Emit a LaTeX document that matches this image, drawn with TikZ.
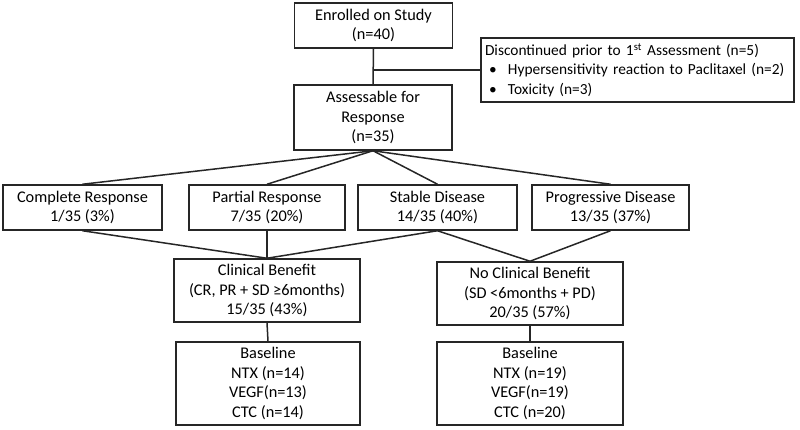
\documentclass[tikz,border=0pt]{standalone}
\usepackage{fontspec}
\setmainfont{Carlito}
\usepackage{tikz}

\tikzset{
  box/.style={draw=black!85, line width=1.5pt, inner sep=2pt, align=center,
              font=\fontsize{16.3}{19.5}\selectfont},
  link/.style={draw=black!85, line width=1.5pt}
}

\begin{document}
\begin{tikzpicture}[x=1pt, y=-1pt]
    \useasboundingbox (0,0) rectangle (800,430);

    %% top
    \node[box, minimum width=158pt, minimum height=45pt] (enroll) at (373.5,25.5)
        {Enrolled on Study\\(n=40)};
    \node[box, minimum width=158pt, minimum height=65pt] (assess) at (373,117.5)
        {Assessable for\\Response\\(n=35)};
    \node[box, minimum width=313pt, minimum height=64pt, align=left, text width=309pt,
          inner xsep=1.5pt, font=\fontsize{15.4}{19.5}\selectfont] (disc) at (637.5,70)
        {\mbox{\hspace*{2pt}Discontinued prior to 1\textsuperscript{st} Assessment (n=5)}\\
         \mbox{\makebox[25pt][l]{\hspace*{6pt}\textbullet}Hypersensitivity reaction to Paclitaxel (n=2)}\\
         \mbox{\makebox[25pt][l]{\hspace*{6pt}\textbullet}Toxicity (n=3)}};

    %% responses
    \node[box, minimum width=159pt, minimum height=45pt] (cr) at (82.5,207.5)
        {Complete Response\\1/35 (3\%)};
    \node[box, minimum width=156pt, minimum height=45pt] (pr) at (267,207.5)
        {Partial Response\\7/35 (20\%)};
    \node[box, minimum width=159pt, minimum height=45pt] (sd) at (437.5,207.5)
        {Stable Disease\\14/35 (40\%)};
    \node[box, minimum width=157pt, minimum height=45pt] (pd) at (610.5,207.5)
        {Progressive Disease\\13/35 (37\%)};

    %% benefit
    \node[box, minimum width=186pt, minimum height=63pt] (cb) at (267,290.5)
        {Clinical Benefit\\(CR, PR + SD ≥6months)\\15/35 (43\%)};
    \node[box, minimum width=186pt, minimum height=63pt] (ncb) at (530,293.5)
        {No Clinical Benefit\\(SD <6months + PD)\\20/35 (57\%)};

    %% baseline
    \node[box, minimum width=184pt, minimum height=83pt] (basecb) at (268,383.5)
        {Baseline\\NTX (n=14)\\VEGF(n=13)\\CTC (n=14)};
    \node[box, minimum width=186pt, minimum height=83pt] (basencb) at (530,383.5)
        {Baseline\\NTX (n=19)\\VEGF(n=19)\\CTC (n=20)};

    %% links
    \draw[link] (enroll.south) -- (assess.north);
    \draw[link] (disc.west) -- (disc.west -| enroll.south);
    \draw[link] (assess.south) -- (cr.north);
    \draw[link] (assess.south) -- (pr.north);
    \draw[link] (assess.south) -- (sd.north);
    \draw[link] (assess.south) -- (pd.north);
    \draw[link] (cr.south) -- (cb.north);
    \draw[link] (pr.south) -- (cb.north);
    \draw[link] (sd.south) -- (cb.north);
    \draw[link] (sd.south) -- (ncb.north);
    \draw[link] (pd.south) -- (ncb.north);
    \draw[link] (cb.south) -- (basecb.north);
    \draw[link] (ncb.south) -- (basencb.north);
\end{tikzpicture}
\end{document}
